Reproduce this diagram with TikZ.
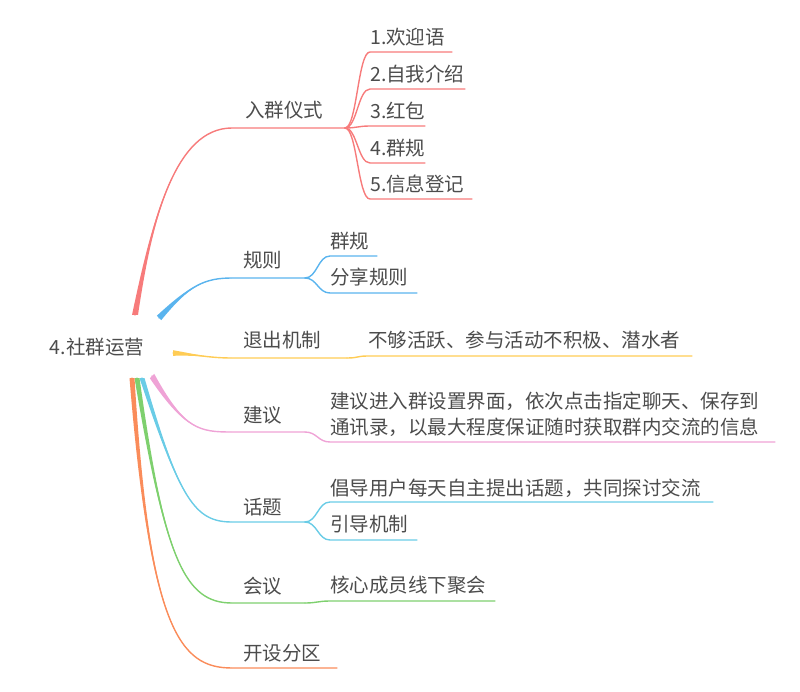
\documentclass[tikz,border=0pt]{standalone}
\usepackage{fontspec}
\setmainfont{Noto Sans CJK SC}
\usetikzlibrary{calc}
\begin{document}
\begin{tikzpicture}[x=1pt,y=-1pt,
  lbl/.style={font=\fontsize{19.5}{26}\selectfont,text=black!70,inner sep=0pt,anchor=west},
  thin/.style={line width=1.4pt,line cap=round}]
\useasboundingbox (0,0) rectangle (800,692);
\definecolor{cr}{HTML}{F77B7B}\definecolor{cb}{HTML}{5AB4EE}\definecolor{cy}{HTML}{FFCC55}
\definecolor{cp}{HTML}{EFA3D6}\definecolor{cc}{HTML}{6ACCE6}\definecolor{cg}{HTML}{7ED06E}
\definecolor{co}{HTML}{FA8C5A}
\node[lbl,anchor=center] (root) at (97,347) {4.社群运营};
\newcommand\br[7]{%
  \fill[#1] ($#2-#7$) .. controls #3 and #4 .. #5 -- #5 .. controls #4 and #3 .. ($#2+#7$) -- cycle;
  \draw[#1,thin] #2 .. controls #3 and #4 .. #5 -- #6;}
\newcommand\ch[4]{%
  \draw[#1,thin] #2 .. controls ($#2+(12,0)$) and ($#3+(-12,0)$) .. #3 -- #4;}
% red
\br{cr}{(135,315)}{(152,220)}{(175,128)}{(232,128)}{(345,128)}{(3,0)}
\node[lbl] (a) at (245,110) {入群仪式};
\foreach \y/\e/\t [count=\i] in {52/452/1.欢迎语,89/465/2.自我介绍,126/425/3.红包,163/425/4.群规,199/472/5.信息登记}{
  \ch{cr}{(345,128)}{(370,\y)}{(\e,\y)}
  \node[lbl] (a\i) at (370,\y-15) {\t};}
% blue
\br{cb}{(159,318)}{(190,285)}{(205,278)}{(232,278)}{(305,278)}{(2.2,2.2)}
\node[lbl] (b) at (243,260) {规则};
\ch{cb}{(305,278)}{(330,256)}{(377,256)}\node[lbl] (b1) at (330,241) {群规};
\ch{cb}{(305,278)}{(330,293)}{(417,293)}\node[lbl] (b2) at (330,277) {分享规则};
% yellow
\br{cy}{(173,353)}{(200,355)}{(210,358)}{(232,358)}{(347,358)}{(0,2.8)}
\node[lbl] (c) at (243,340) {退出机制};
\ch{cy}{(347,358)}{(368,356)}{(692,356)}\node[lbl] (c1) at (368,340) {不够活跃、参与活动不积极、潜水者};
% pink
\br{cp}{(152,376)}{(185,430)}{(200,432)}{(232,432)}{(305,432)}{(2.2,-2.2)}
\node[lbl] (d) at (243,415) {建议};
\ch{cp}{(305,432)}{(330,442)}{(775,442)}
\node[lbl,align=left,anchor=north west] (d1) at (330,392) {建议进入群设置界面，依次点击指定聊天、保存到\\通讯录，以最大程度保证随时获取群内交流的信息};
% cyan
\br{cc}{(142,378)}{(180,500)}{(195,522)}{(232,522)}{(305,522)}{(2.5,0)}
\node[lbl] (e) at (243,507) {话题};
\ch{cc}{(305,522)}{(330,502)}{(713,502)}\node[lbl] (e1) at (330,488) {倡导用户每天自主提出话题，共同探讨交流};
\ch{cc}{(305,522)}{(330,540)}{(417,540)}\node[lbl] (e2) at (330,524) {引导机制};
% green
\br{cg}{(137,378)}{(165,560)}{(185,603)}{(232,603)}{(305,603)}{(2.5,0)}
\node[lbl] (f) at (243,586) {会议};
\ch{cg}{(305,603)}{(330,601)}{(495,601)}\node[lbl] (f1) at (330,585) {核心成员线下聚会};
% orange
\br{co}{(132,378)}{(150,630)}{(180,668)}{(232,668)}{(337,668)}{(2.5,0)}
\node[lbl] (g) at (243,653) {开设分区};
\end{tikzpicture}
\end{document}
